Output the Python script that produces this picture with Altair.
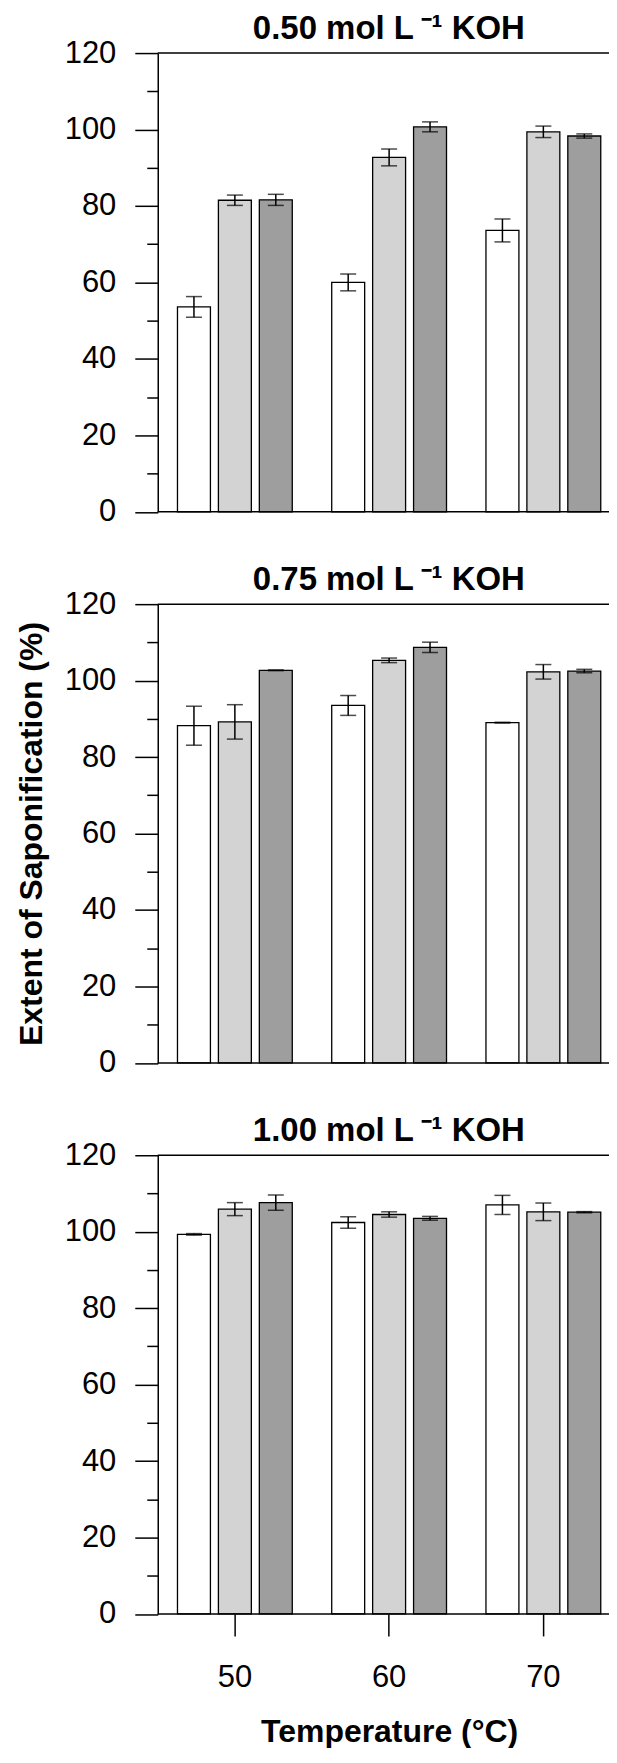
import altair as alt
import pandas as pd

# ---------------- data ----------------
temperatures = ["50", "60", "70"]
series_names = ["Series 1", "Series 2", "Series 3"]
series_colors = ["#ffffff", "#d2d3d2", "#9d9e9d"]
panel_titles = [
    "0.50 mol L\u2009\u207b\u00b9 KOH",
    "0.75 mol L\u2009\u207b\u00b9 KOH",
    "1.00 mol L\u2009\u207b\u00b9 KOH",
]

# rows: temperature 50, 60, 70 ; columns: series 1, 2, 3
mean_050 = [[53.6, 81.5, 81.6], [60.0, 92.7, 100.7], [73.6, 99.4, 98.3]]
err_050 = [[2.7, 1.35, 1.45], [2.2, 2.2, 1.3], [3.0, 1.5, 0.55]]
mean_075 = [[88.2, 89.2, 102.7], [93.5, 105.3, 108.7], [89.0, 102.3, 102.5]]
err_075 = [[5.1, 4.5, 0.1], [2.6, 0.6, 1.35], [0.1, 1.9, 0.45]]
mean_100 = [[99.3, 105.9, 107.6], [102.4, 104.5, 103.5], [107.0, 105.2, 105.1]]
err_100 = [[0.2, 1.7, 2.0], [1.5, 0.7, 0.5], [2.5, 2.3, 0.15]]

y_major = [0, 20, 40, 60, 80, 100, 120]
y_minor = [10, 30, 50, 70, 90, 110]
y_frame = [0, 120]
y_title = "Extent of Saponification (%)"
x_title = "Temperature (\u00b0C)"

FONT = "Liberation Sans"
PLOT_W = 453
X_RANGE = [0, 463.5]
PLOT_H = 459.5


def make_df(means, errs):
    rows = []
    for ti, t in enumerate(temperatures):
        for si, s in enumerate(series_names):
            m = means[ti][si]
            e = errs[ti][si]
            rows.append({"temp": t, "series": s, "mean": m, "lo": m - e, "hi": m + e})
    return pd.DataFrame(rows)


def panel(means, errs, title, show_x, show_ytitle):
    df = make_df(means, errs)
    x_scale = alt.Scale(paddingInner=0, paddingOuter=0, range=X_RANGE)
    off_scale = alt.Scale(paddingInner=0.195, paddingOuter=0.482)
    y_scale = alt.Scale(domain=[0, 120], nice=False)

    if show_x:
        x_axis = alt.Axis(
            orient="bottom", domain=False,
            ticks=True, tickSize=22, tickWidth=1.5, tickColor="black",
            labels=True, labelFontSize=31, labelFont=FONT, labelColor="black",
            labelPadding=27, labelAngle=0,
            title=x_title, titleFontSize=32, titleFont=FONT, titleFontWeight="bold",
            titleColor="black", titlePadding=24,
        )
    else:
        x_axis = None

    major_axis = alt.Axis(
        values=y_major, domain=True, domainColor="black", domainWidth=1.5,
        tickSize=23, tickWidth=1.5, tickColor="black",
        labelFontSize=31, labelFont=FONT, labelColor="black", labelPadding=19,
        grid=False,
        title=y_title if show_ytitle else None,
        titleFontSize=32, titleFont=FONT, titleFontWeight="bold", titleColor="black",
        titlePadding=16,
    )
    minor_axis = alt.Axis(
        values=y_minor, orient="left", domain=False, tickSize=11, tickWidth=1.5,
        tickColor="black", labels=False, grid=False, title=None,
    )

    # identical x encoding in every layer so the merged axis stays consistent
    x_enc = alt.X("temp:N", sort=temperatures, scale=x_scale, axis=x_axis)
    off = alt.XOffset("series:N", sort=series_names, scale=off_scale)

    base = alt.Chart(df)
    bars = base.mark_bar(stroke="black", strokeWidth=1.3).encode(
        x=x_enc,
        xOffset=off,
        y=alt.Y("mean:Q", scale=y_scale, axis=major_axis),
        fill=alt.Fill("series:N", sort=series_names,
                      scale=alt.Scale(domain=series_names, range=series_colors), legend=None),
    )
    whisk = base.mark_rule(color="black", strokeWidth=1.5).encode(
        x=x_enc, xOffset=off,
        y=alt.Y("lo:Q", scale=y_scale, axis=None), y2="hi:Q",
    )
    cap_hi = base.mark_tick(color="black", thickness=1.5, size=16).encode(
        x=x_enc, xOffset=off, y=alt.Y("hi:Q", scale=y_scale, axis=None),
    )
    cap_lo = base.mark_tick(color="black", thickness=1.5, size=16).encode(
        x=x_enc, xOffset=off, y=alt.Y("lo:Q", scale=y_scale, axis=minor_axis),
    )
    frame_lines = alt.Chart(pd.DataFrame({"v": y_frame})).mark_rule(
        color="black", strokeWidth=1.5
    ).encode(y=alt.Y("v:Q", scale=y_scale, axis=None))

    return (
        alt.layer(bars, whisk, cap_hi, cap_lo, frame_lines)
        .resolve_axis(y="independent")
        .properties(
            width=PLOT_W, height=PLOT_H,
            title=alt.TitleParams(
                text=title, fontSize=33, font=FONT, fontWeight="bold", color="black",
                anchor="middle", frame="group", baseline="alphabetic", offset=-35, dx=5,
            ),
        )
    )


p1 = panel(mean_050, err_050, panel_titles[0], False, False)
p2 = panel(mean_075, err_075, panel_titles[1], False, True)
p3 = panel(mean_100, err_100, panel_titles[2], True, False)

chart = (
    alt.vconcat(p1, p2, p3, spacing=92, bounds="flush")
    .properties(padding={"left": 7, "top": 3.7, "right": -12, "bottom": -1.5}, background="white")
    .configure_view(stroke=None)
)

chart.save("out.html", embed_options={"renderer": "svg", "actions": False})
